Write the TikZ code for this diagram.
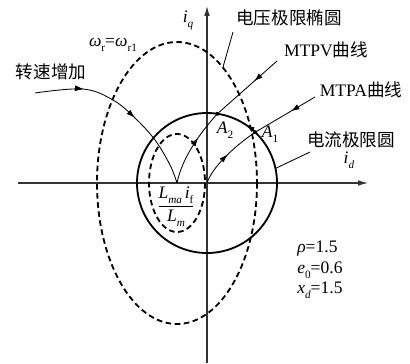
\documentclass[tikz,border=0pt]{standalone}
\usepackage{fontspec}
\setmainfont{Liberation Serif}
\newfontfamily\cjk{Noto Sans CJK SC}
\usetikzlibrary{
    arrows.meta,
    decorations.markings,
    calc
}
\newcommand{\lsub}[1]{\raisebox{-0.6ex}{\fontsize{8}{9}\selectfont #1}}

\begin{document}
\begin{tikzpicture}[
    x=0.25mm, y=-0.25mm,
    every node/.style={font=\fontsize{12.5}{15}\selectfont, inner sep=0pt},
    cnlabel/.style={font=\cjk\fontsize{12.5}{15}\selectfont},
    axis/.style={line width=0.8pt, draw=black!80, -{Latex[length=7pt,width=4pt]}},
    limit/.style={line width=1.3pt},
    dashlimit/.style={line width=1.3pt, dash pattern=on 4pt off 2.5pt},
    curve/.style={line width=0.6pt},
    leader/.style={line width=0.6pt},
    tip/.style={-{Latex[length=6pt,width=4pt]}},
    fwd/.style={postaction={decorate}, decoration={markings, mark=at position #1 with {\arrow{Latex[length=6pt,width=4pt]}}}},
    bwd/.style={postaction={decorate}, decoration={markings, mark=at position #1 with {\arrowreversed{Latex[length=6pt,width=4pt]}}}}
]
\useasboundingbox (0,0) rectangle (410,363);

\coordinate (O) at (207,183);
\coordinate (C) at (177,183);
\coordinate (xl) at (18,183);
\coordinate (xr) at (368,183);
\coordinate (yb) at (207,363);
\coordinate (yt) at (207,6);
\coordinate (A1) at ($(O)+(-46.5:70)$);
\coordinate (A2) at ($(O)+(-81.5:70)$);
\coordinate (A1b) at ($(O)+(-56:70)$);
\coordinate (spd0) at (35,93);
\coordinate (mtpv1) at (277,61);
\coordinate (mtpa1) at (315,97);
\coordinate (E1) at ($(C)+(-55:80 and 141)$);
\coordinate (E2) at (233,32);
\coordinate (I1) at ($(O)+(-12:70)$);
\coordinate (I2) at (310,152);

\draw[axis] (xl) -- (xr);
\draw[axis] (yb) -- (yt);

\draw[limit] (O) circle (70);
\draw[dashlimit] (C) ellipse [x radius=80, y radius=141];
\draw[dashlimit] (C) ellipse [x radius=28, y radius=49];

\draw[curve, fwd=0.26, postaction={decorate, decoration={markings, mark=at position 0.58 with {\arrow{Latex[length=6pt,width=4pt]}}}}]
    plot[smooth, tension=0.6] coordinates {(spd0) (83,89) (113,100) (135,118) (155,140) (170,165) (C)};
\draw[curve, fwd=0.62] (C) .. controls (182,158) and (200,133) .. (A2);
\draw[curve, bwd=0.62] (A2) -- (mtpv1);
\draw[curve, fwd=0.5] (O) .. controls (212,168) and (232,148) .. (A1);
\draw[curve, bwd=0.6] (A1) -- (mtpa1);
\draw[limit, tip] (A1) arc[start angle=-46.5, end angle=-56, radius=70];
\fill (A1) circle (2);
\fill (A2) circle (2);

\draw[leader] (E1) -- (E2);
\draw[leader] (I1) -- (I2);

\node[cnlabel] (ulim) at (289,18) {电压极限椭圆};
\node (wlab) at (113,45) {\textit{ω}\lsub{r}=\textit{ω}\lsub{r1}};
\node[cnlabel] (spd) at (51,72) {转速增加};
\node (mtpv) at (326,50) {MTPV{\cjk 曲线}};
\node (mtpa) at (361,90) {MTPA{\cjk 曲线}};
\node[cnlabel] (ilim) at (351,140) {电流极限圆};
\node (idlab) at (349,160) {\textit{i}\lsub{\textit{d}}};
\node (iqlab) at (188,20) {\textit{i}\lsub{\textit{q}}};
\node (a1lab) at (270,134) {\textit{A}\lsub{1}};
\node (a2lab) at (225,130) {\textit{A}\lsub{2}};
\node (frac) at (176,207) {$\displaystyle\frac{\textit{L}\lsub{\textit{ma}}\,\textit{i}\lsub{f}}{\textit{L}\lsub{\textit{m}}}$};
\node[align=left, anchor=north west, font=\fontsize{12.5}{14.5}\selectfont] (par) at (297,241) {\textit{ρ}=1.5\\\textit{e}\lsub{0}=0.6\\\textit{x}\lsub{\textit{d}}=1.5};

\end{tikzpicture}
\end{document}
